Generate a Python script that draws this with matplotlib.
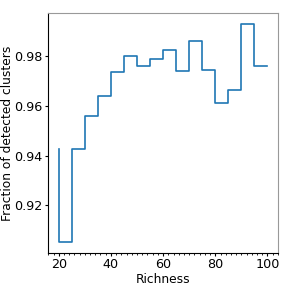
import matplotlib
matplotlib.use('Agg')
import matplotlib.pyplot as plt
from matplotlib.ticker import MultipleLocator

# Richness bin edges and detected fraction
richness = [20, 25, 30, 35, 40, 45, 50, 55, 60, 65, 70, 75, 80, 85, 90, 95, 100]
fraction = [0.9426, 0.9051, 0.9428, 0.9559, 0.9639, 0.9736, 0.9800, 0.9760, 0.9790,
            0.9823, 0.9741, 0.9859, 0.9743, 0.9611, 0.9663, 0.9929, 0.9761]

fig = plt.figure(figsize=(2.91, 2.91), dpi=100)
ax = fig.add_axes([0.166, 0.13, 0.789, 0.825])

ax.step(richness, fraction, color='#1f77b4', linewidth=1.2)

ax.set_xlabel('Richness', fontsize=8.8)
ax.set_ylabel('Fraction of detected clusters', fontsize=8.8)
ax.xaxis.set_label_coords(0.5, -0.082)
ax.yaxis.set_label_coords(-0.148, 0.5)
ax.tick_params(labelsize=9.2, length=2.5)
ax.tick_params(axis='x', pad=1)
ax.tick_params(axis='y', pad=1.5)
ax.xaxis.set_minor_locator(MultipleLocator(2))
ax.tick_params(axis='x', which='minor', length=1.3)
ax.set_yticks([0.92, 0.94, 0.96, 0.98])

for side in ['top', 'right']:
    ax.spines[side].set_color('#999999')

fig.savefig('out.png', dpi=100)
